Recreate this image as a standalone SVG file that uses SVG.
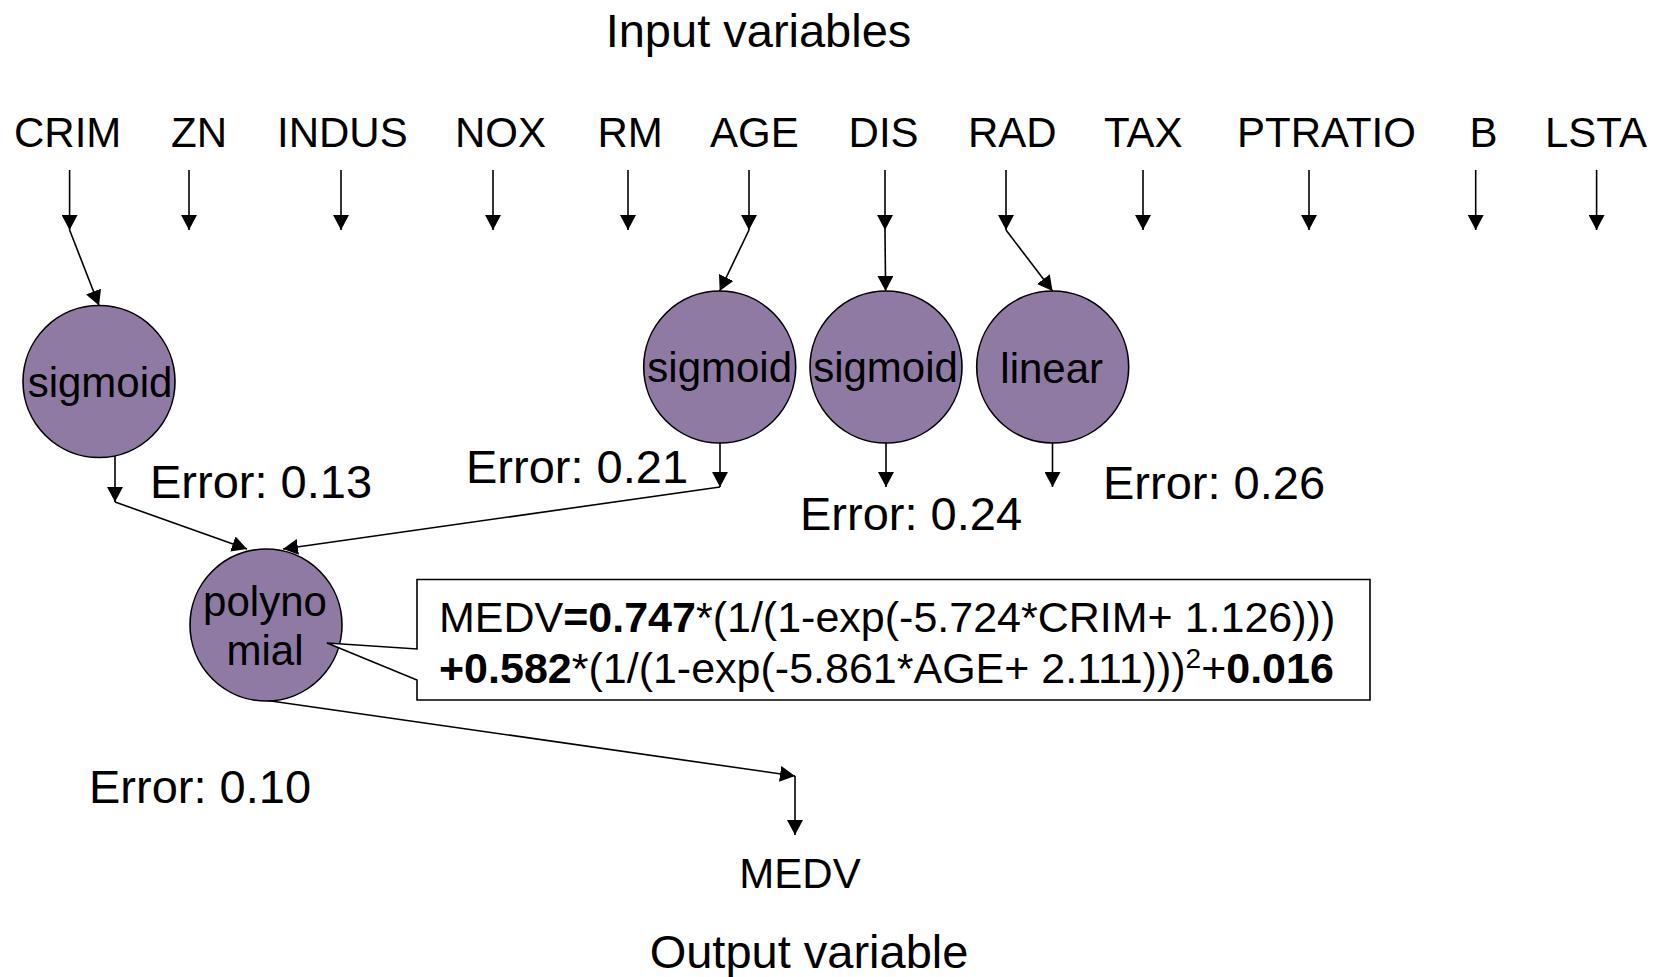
<svg xmlns="http://www.w3.org/2000/svg" width="1661" height="977" viewBox="0 0 1661 977">
<style>
text{font-family:"Liberation Sans",Arial,Helvetica,sans-serif;fill:#000}
.t{font-size:47px}
.v{font-size:42px}
.n{font-size:42px;text-anchor:middle}
.e{font-size:47px}
.c{font-size:43px}
.b{font-weight:bold}
.node{fill:#8e7aa3;stroke:#000;stroke-width:1.6}
.ln{stroke:#000;stroke-width:1.6;fill:none}
.ar{stroke:#000;stroke-width:1.6;fill:none;marker-end:url(#ah)}
</style>
<defs>
<marker id="ah" viewBox="0 0 15 16" refX="15" refY="8" markerWidth="15" markerHeight="16" orient="auto" markerUnits="userSpaceOnUse">
<path d="M0,0 L15,8 L0,16 Z" fill="#000"/>
</marker>
</defs>
<rect width="1661" height="977" fill="#fff"/>

<g id="title-input"><text class="t" x="758.5" y="46.6" text-anchor="middle">Input variables</text></g>
<g id="title-output"><text class="t" x="809" y="968" text-anchor="middle">Output variable</text></g>

<g id="inputs">
<g id="in-CRIM"><text class="v" x="14" y="146.7">CRIM</text></g>
<g id="in-ZN"><text class="v" x="171" y="146.7">ZN</text></g>
<g id="in-INDUS"><text class="v" x="277" y="146.7">INDUS</text></g>
<g id="in-NOX"><text class="v" x="455" y="146.7">NOX</text></g>
<g id="in-RM"><text class="v" x="597.5" y="146.7">RM</text></g>
<g id="in-AGE"><text class="v" x="710" y="146.7">AGE</text></g>
<g id="in-DIS"><text class="v" x="848.6" y="146.7">DIS</text></g>
<g id="in-RAD"><text class="v" x="968" y="146.7">RAD</text></g>
<g id="in-TAX"><text class="v" x="1104" y="146.7">TAX</text></g>
<g id="in-PTRATIO"><text class="v" x="1237" y="146.7">PTRATIO</text></g>
<g id="in-B"><text class="v" x="1469.6" y="146.7">B</text></g>
<g id="in-LSTA"><text class="v" x="1545" y="146.7">LSTA</text></g>
</g>

<g id="connectors">
<line class="ar" x1="69.6" y1="170" x2="69.6" y2="230"/>
<line class="ar" x1="189" y1="170" x2="189" y2="230"/>
<line class="ar" x1="341" y1="170" x2="341" y2="230"/>
<line class="ar" x1="493" y1="170" x2="493" y2="230"/>
<line class="ar" x1="628" y1="170" x2="628" y2="230"/>
<line class="ar" x1="749" y1="170" x2="749" y2="230"/>
<line class="ar" x1="885" y1="170" x2="885" y2="230"/>
<line class="ar" x1="1006" y1="170" x2="1006" y2="230"/>
<line class="ar" x1="1143" y1="170" x2="1143" y2="230"/>
<line class="ar" x1="1309" y1="170" x2="1309" y2="230"/>
<line class="ar" x1="1475.7" y1="170" x2="1475.7" y2="230"/>
<line class="ar" x1="1596.6" y1="170" x2="1596.6" y2="230"/>

<line class="ar" x1="69.6" y1="230" x2="99" y2="305.5"/>
<line class="ar" x1="749" y1="230" x2="719.7" y2="291"/>
<line class="ar" x1="885" y1="230" x2="885.6" y2="291"/>
<line class="ar" x1="1006" y1="230" x2="1052.5" y2="291"/>

<line class="ar" x1="115" y1="456" x2="115" y2="502"/>
<line class="ar" x1="720" y1="443" x2="720" y2="487"/>
<line class="ar" x1="886" y1="443" x2="886" y2="487"/>
<line class="ar" x1="1052.5" y1="443" x2="1052.5" y2="487"/>

<line class="ar" x1="115" y1="502" x2="247" y2="549"/>
<line class="ar" x1="720" y1="487" x2="283" y2="549"/>
<line class="ar" x1="264" y1="700" x2="795" y2="776"/>
<line class="ar" x1="795" y1="776" x2="795" y2="835"/>
</g>

<g id="node-sigmoid-crim">
<circle class="node" cx="99" cy="381.5" r="76"/>
<text class="n" x="100" y="397">sigmoid</text>
</g>
<g id="node-sigmoid-age">
<circle class="node" cx="719.7" cy="367" r="76"/>
<text class="n" x="719.7" y="382">sigmoid</text>
</g>
<g id="node-sigmoid-dis">
<circle class="node" cx="886" cy="367" r="76"/>
<text class="n" x="885.5" y="382">sigmoid</text>
</g>
<g id="node-linear">
<circle class="node" cx="1052.7" cy="367" r="76"/>
<text class="n" x="1051.7" y="382.5">linear</text>
</g>
<g id="node-polynomial">
<circle class="node" cx="266" cy="625" r="76"/>
<text class="n" x="265" y="615.5">polyno</text>
<text class="n" x="265" y="665">mial</text>
</g>

<g id="errors">
<text class="e" x="150" y="498.3">Error: 0.13</text>
<text class="e" x="466" y="483">Error: 0.21</text>
<text class="e" x="800" y="530">Error: 0.24</text>
<text class="e" x="1103" y="499.3">Error: 0.26</text>
<text class="e" x="89" y="802.5">Error: 0.10</text>
</g>

<g id="callout">
<path d="M417,579.5 H1370 V700 H417 V680 L327,643 L417,649 Z" fill="#fff" stroke="#000" stroke-width="1.6"/>
<text class="c" x="439" y="631.7">MEDV<tspan class="b">=0.747</tspan>*(1/(1-exp(-5.724*CRIM+ 1.126)))</text>
<text class="c" x="439" y="682.7"><tspan class="b">+0.582</tspan>*(1/(1-exp(-5.861*AGE+ 2.111)))<tspan font-size="28" dy="-15">2</tspan><tspan dy="15">+</tspan><tspan class="b">0.016</tspan></text>
</g>

<g id="node-MEDV"><text class="v" x="800" y="888.3" text-anchor="middle">MEDV</text></g>
</svg>
